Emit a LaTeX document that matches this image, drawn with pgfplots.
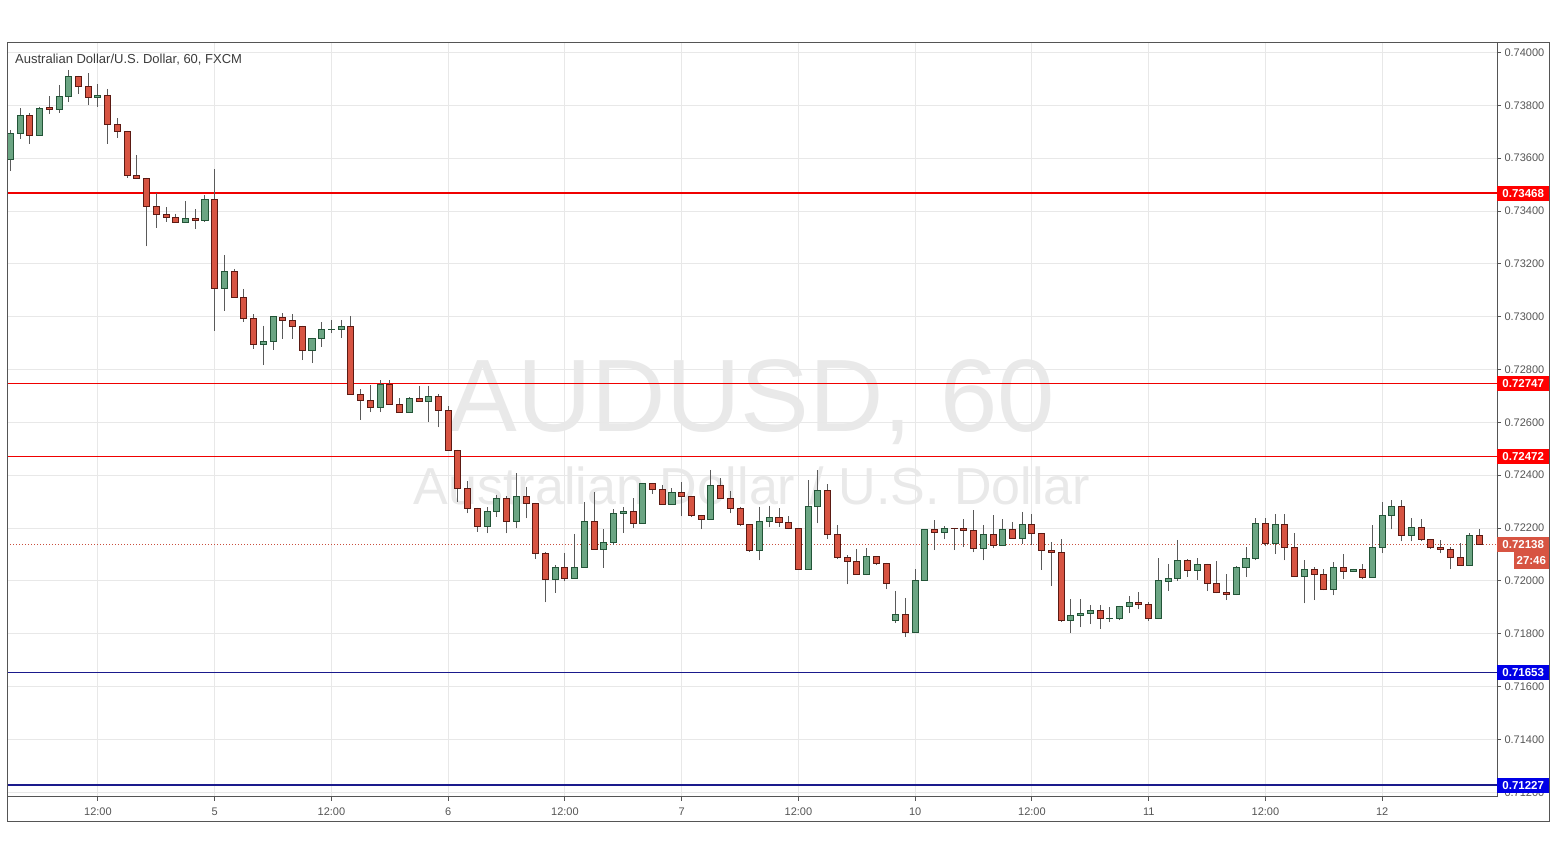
\documentclass[border=0pt]{standalone}
\usepackage{fontspec}
\setmainfont{Liberation Sans}
\usepackage{pgfplots}
\pgfplotsset{compat=1.18}
\usepackage{pgfplotstable}
\usepgfplotslibrary{statistics}

\definecolor{upfill}{HTML}{6BA583}
\definecolor{upline}{HTML}{225437}
\definecolor{dnfill}{HTML}{D75442}
\definecolor{dnline}{HTML}{5B1A13}
\definecolor{wick}{HTML}{5A5A5A}
\definecolor{gridc}{HTML}{E8E8E8}
\definecolor{axisc}{HTML}{555555}
\definecolor{tickc}{HTML}{555555}
\definecolor{wm}{HTML}{E9E9E9}
\definecolor{lvlred}{HTML}{F00000}
\definecolor{lvlblue}{HTML}{1A1A8C}
\definecolor{boxred}{HTML}{FF0000}
\definecolor{boxblue}{HTML}{0000E6}
\definecolor{lastc}{HTML}{C9503E}
\definecolor{lastbox}{HTML}{D75442}
\definecolor{titlec}{HTML}{3C3C3C}

\tikzset{pbox/.style={anchor=west, text=white, font=\bfseries\fontsize{11.5}{11.5}\selectfont, minimum width=52pt, minimum height=15pt, inner sep=0pt}}

% r = candle index (hourly), L = low, B = body bottom, T = body top, H = high, up = 1 if close > open
\pgfplotstableread{
r L B T H up
0 0.73551 0.73596 0.73694 0.73707 1
1 0.73673 0.73694 0.73762 0.73789 1
2 0.73654 0.73687 0.73762 0.73770 0
3 0.73685 0.73687 0.73789 0.73795 1
4 0.73767 0.73785 0.73790 0.73835 0
5 0.73771 0.73785 0.73834 0.73877 1
6 0.73812 0.73834 0.73910 0.73934 1
7 0.73843 0.73872 0.73910 0.73912 0
8 0.73801 0.73830 0.73872 0.73921 0
9 0.73795 0.73830 0.73838 0.73881 1
10 0.73654 0.73728 0.73838 0.73862 0
11 0.73678 0.73702 0.73728 0.73752 0
12 0.73526 0.73535 0.73702 0.73704 0
13 0.73522 0.73524 0.73535 0.73612 0
14 0.73266 0.73418 0.73524 0.73526 0
15 0.73337 0.73388 0.73418 0.73467 0
16 0.73360 0.73376 0.73388 0.73415 0
17 0.73355 0.73357 0.73376 0.73390 0
18 0.73355 0.73357 0.73372 0.73437 1
19 0.73331 0.73365 0.73372 0.73407 0
20 0.73360 0.73365 0.73444 0.73460 1
21 0.72947 0.73108 0.73444 0.73558 0
22 0.73023 0.73108 0.73172 0.73234 1
23 0.73071 0.73073 0.73172 0.73181 0
24 0.72981 0.72994 0.73073 0.73105 0
25 0.72879 0.72896 0.72994 0.73009 0
26 0.72817 0.72896 0.72907 0.72966 1
27 0.72874 0.72907 0.72999 0.73003 1
28 0.72916 0.72986 0.72998 0.73013 0
29 0.72916 0.72964 0.72986 0.73010 0
30 0.72836 0.72873 0.72964 0.72966 0
31 0.72824 0.72873 0.72918 0.72920 1
32 0.72886 0.72918 0.72952 0.72979 1
33 0.72937 0.72952 0.72953 0.72988 1
34 0.72921 0.72952 0.72964 0.72988 1
35 0.72704 0.72706 0.72964 0.73003 0
36 0.72609 0.72684 0.72706 0.72725 0
37 0.72638 0.72657 0.72684 0.72740 0
38 0.72638 0.72657 0.72744 0.72759 1
39 0.72666 0.72668 0.72744 0.72759 0
40 0.72636 0.72638 0.72668 0.72691 0
41 0.72636 0.72638 0.72691 0.72695 1
42 0.72678 0.72680 0.72691 0.72738 0
43 0.72603 0.72680 0.72699 0.72738 1
44 0.72581 0.72646 0.72699 0.72706 0
45 0.72493 0.72495 0.72646 0.72662 0
46 0.72298 0.72350 0.72495 0.72497 0
47 0.72256 0.72275 0.72350 0.72378 0
48 0.72186 0.72207 0.72275 0.72277 0
49 0.72180 0.72207 0.72263 0.72279 1
50 0.72241 0.72263 0.72313 0.72324 1
51 0.72180 0.72226 0.72313 0.72320 0
52 0.72199 0.72226 0.72320 0.72407 1
53 0.72237 0.72294 0.72320 0.72357 0
54 0.72084 0.72104 0.72294 0.72296 0
55 0.71919 0.72006 0.72104 0.72110 0
56 0.71955 0.72006 0.72051 0.72059 1
57 0.71998 0.72010 0.72051 0.72107 0
58 0.72008 0.72010 0.72051 0.72178 1
59 0.72049 0.72051 0.72226 0.72298 1
60 0.72118 0.72120 0.72226 0.72335 0
61 0.72049 0.72120 0.72146 0.72195 1
62 0.72135 0.72146 0.72256 0.72271 1
63 0.72181 0.72256 0.72263 0.72280 1
64 0.72199 0.72218 0.72263 0.72313 0
65 0.72216 0.72218 0.72369 0.72371 1
66 0.72328 0.72347 0.72369 0.72371 0
67 0.72288 0.72290 0.72347 0.72363 0
68 0.72288 0.72290 0.72335 0.72350 1
69 0.72244 0.72320 0.72335 0.72373 0
70 0.72241 0.72248 0.72320 0.72322 0
71 0.72195 0.72233 0.72248 0.72250 0
72 0.72231 0.72233 0.72362 0.72420 1
73 0.72311 0.72313 0.72362 0.72388 0
74 0.72256 0.72275 0.72313 0.72341 0
75 0.72207 0.72214 0.72275 0.72281 0
76 0.72110 0.72116 0.72214 0.72216 0
77 0.72078 0.72116 0.72226 0.72281 1
78 0.72203 0.72226 0.72241 0.72285 1
79 0.72205 0.72222 0.72241 0.72275 0
80 0.72195 0.72199 0.72222 0.72244 0
81 0.72042 0.72044 0.72199 0.72201 0
82 0.72042 0.72044 0.72282 0.72381 1
83 0.72218 0.72282 0.72343 0.72419 1
84 0.72157 0.72176 0.72343 0.72366 0
85 0.72082 0.72089 0.72176 0.72210 0
86 0.71987 0.72074 0.72089 0.72097 0
87 0.72023 0.72025 0.72074 0.72120 0
88 0.72021 0.72025 0.72093 0.72123 1
89 0.72059 0.72067 0.72093 0.72095 0
90 0.71968 0.71991 0.72067 0.72069 0
91 0.71840 0.71851 0.71874 0.71962 1
92 0.71787 0.71805 0.71874 0.71936 0
93 0.71803 0.71805 0.72002 0.72044 1
94 0.72000 0.72002 0.72195 0.72197 1
95 0.72116 0.72184 0.72195 0.72229 0
96 0.72157 0.72184 0.72199 0.72207 1
97 0.72116 0.72198 0.72199 0.72201 0
98 0.72127 0.72191 0.72199 0.72234 0
99 0.72108 0.72123 0.72191 0.72268 0
100 0.72078 0.72123 0.72176 0.72212 1
101 0.72123 0.72135 0.72176 0.72249 0
102 0.72133 0.72135 0.72195 0.72234 1
103 0.72159 0.72161 0.72195 0.72223 0
104 0.72139 0.72161 0.72214 0.72261 1
105 0.72135 0.72180 0.72214 0.72253 0
106 0.72042 0.72116 0.72180 0.72182 0
107 0.71980 0.72108 0.72116 0.72146 0
108 0.71846 0.71849 0.72108 0.72157 0
109 0.71802 0.71849 0.71870 0.71930 1
110 0.71824 0.71870 0.71877 0.71930 1
111 0.71836 0.71877 0.71889 0.71908 1
112 0.71817 0.71858 0.71889 0.71908 0
113 0.71843 0.71858 0.71859 0.71900 1
114 0.71851 0.71858 0.71904 0.71906 1
115 0.71877 0.71904 0.71919 0.71942 1
116 0.71892 0.71911 0.71919 0.71957 0
117 0.71850 0.71858 0.71911 0.71920 0
118 0.71855 0.71858 0.72000 0.72085 1
119 0.71961 0.71999 0.72010 0.72064 1
120 0.71999 0.72010 0.72078 0.72155 1
121 0.72014 0.72040 0.72078 0.72082 0
122 0.72002 0.72040 0.72063 0.72085 1
123 0.71961 0.71991 0.72063 0.72065 0
124 0.71953 0.71957 0.71991 0.72074 0
125 0.71927 0.71949 0.71957 0.72025 0
126 0.71945 0.71949 0.72051 0.72055 1
127 0.72014 0.72051 0.72085 0.72127 1
128 0.72078 0.72085 0.72218 0.72237 1
129 0.72131 0.72142 0.72218 0.72237 0
130 0.72101 0.72142 0.72214 0.72252 1
131 0.72078 0.72127 0.72214 0.72252 0
132 0.72014 0.72017 0.72127 0.72180 0
133 0.71915 0.72017 0.72044 0.72078 1
134 0.71927 0.72025 0.72044 0.72051 0
135 0.71964 0.71968 0.72025 0.72044 0
136 0.71945 0.71968 0.72051 0.72070 1
137 0.72006 0.72036 0.72051 0.72101 0
138 0.72034 0.72036 0.72044 0.72046 1
139 0.72006 0.72014 0.72044 0.72063 0
140 0.72012 0.72014 0.72127 0.72210 1
141 0.72104 0.72127 0.72248 0.72298 1
142 0.72195 0.72248 0.72282 0.72305 1
143 0.72150 0.72173 0.72282 0.72305 0
144 0.72150 0.72173 0.72203 0.72237 1
145 0.72150 0.72157 0.72203 0.72233 0
146 0.72120 0.72127 0.72157 0.72159 0
147 0.72104 0.72120 0.72127 0.72154 0
148 0.72044 0.72089 0.72120 0.72127 0
149 0.72057 0.72059 0.72089 0.72142 0
150 0.72057 0.72059 0.72173 0.72180 1
151 0.72136 0.72138 0.72173 0.72195 0
}\candles

\begin{document}
\begin{tikzpicture}
\useasboundingbox (0pt,0pt) rectangle (1556pt,859pt);
\fill[white] (0pt,0pt) rectangle (1556pt,859pt);
% watermark
\node[anchor=base, text=wm, font=\fontsize{103}{103}\selectfont, inner sep=0pt] at (752pt,427pt) {AUDUSD, 60};
\node[anchor=base, text=wm, font=\fontsize{52}{52}\selectfont, inner sep=0pt] at (752pt,354pt) {Australian Dollar / U.S. Dollar};

\begin{axis}[
  at={(7pt,62pt)}, anchor=south west,
  scale only axis, width=1490pt, height=754pt,
  xmin=-0.35, xmax=152.8,
  ymin=0.71182, ymax=0.74036,
  clip mode=individual,
  axis line style={axisc, line width=1pt},
  grid=major, grid style={gridc, line width=1pt},
  tick style={axisc, line width=1pt},
  major tick length=4pt, tick align=outside,
  xtick pos=bottom, ytick pos=right, yticklabel pos=right,
  xtick={9,21,33,45,57,69,81,93,105,117,129,141},
  xticklabels={12:00,5,12:00,6,12:00,7,12:00,10,12:00,11,12:00,12},
  ytick={0.712,0.714,0.716,0.718,0.720,0.722,0.724,0.726,0.728,0.730,0.732,0.734,0.736,0.738,0.740},
  scaled y ticks=false,
  yticklabel style={/pgf/number format/fixed, /pgf/number format/fixed zerofill,
    /pgf/number format/precision=5, /pgf/number format/assume math mode=true,
    font=\fontsize{11}{11}\selectfont, text=tickc},
  xticklabel style={font=\fontsize{11}{11}\selectfont, text=tickc, yshift=-3pt},
  boxplot/draw direction=y,
  boxplot/box extend=0.62,
  boxplot/whisker extend=0,
  boxplot/every whisker/.style={draw=wick, line width=1pt},
  upc/.style={draw=upline, fill=upfill, line width=1pt, boxplot/every median/.style={draw=upline}},
  dnc/.style={draw=dnline, fill=dnfill, line width=1pt, boxplot/every median/.style={draw=dnline}},
]
% support / resistance levels
\addplot[lvlred, line width=1.3pt, forget plot] coordinates {(-0.35,0.73468) (152.8,0.73468)};
\addplot[lvlred, line width=1.3pt, forget plot] coordinates {(-0.35,0.72747) (152.8,0.72747)};
\addplot[lvlred, line width=1.3pt, forget plot] coordinates {(-0.35,0.72472) (152.8,0.72472)};
\addplot[lvlblue, line width=1.3pt, forget plot] coordinates {(-0.35,0.71653) (152.8,0.71653)};
\addplot[lvlblue, line width=1.3pt, forget plot] coordinates {(-0.35,0.71227) (152.8,0.71227)};
% last price
\addplot[lastc, line width=1pt, dash pattern=on 1pt off 2pt, forget plot] coordinates {(-0.35,0.72138) (152.8,0.72138)};

% candles, one per table row
\pgfplotsinvokeforeach{0,...,151}{
  \pgfplotstablegetelem{#1}{L}\of\candles \let\cL\pgfplotsretval
  \pgfplotstablegetelem{#1}{B}\of\candles \let\cB\pgfplotsretval
  \pgfplotstablegetelem{#1}{T}\of\candles \let\cT\pgfplotsretval
  \pgfplotstablegetelem{#1}{H}\of\candles \let\cH\pgfplotsretval
  \pgfplotstablegetelem{#1}{up}\of\candles
  \ifnum\pgfplotsretval=1 \def\cstyle{upc}\else\def\cstyle{dnc}\fi
  \edef\candleplot{\noexpand\addplot[\cstyle, boxplot prepared={draw position=#1,
      lower whisker=\cL, lower quartile=\cB, median=\cB, upper quartile=\cT, upper whisker=\cH}] coordinates {};}
  \candleplot
}

% price labels on the scale
\node[pbox, fill=boxred] at (axis cs:152.8,0.73468) {0.73468};
\node[pbox, fill=boxred] at (axis cs:152.8,0.72747) {0.72747};
\node[pbox, fill=boxred] at (axis cs:152.8,0.72472) {0.72472};
\node[pbox, fill=lastbox] at (axis cs:152.8,0.72138) {0.72138};
\node[pbox, fill=lastbox, anchor=north east, minimum width=35pt, minimum height=17pt] at ([xshift=52pt,yshift=-7.5pt]axis cs:152.8,0.72138) {27:46};
\node[pbox, fill=boxblue] at (axis cs:152.8,0.71653) {0.71653};
\node[pbox, fill=boxblue] at (axis cs:152.8,0.71227) {0.71227};
\end{axis}

% outer frame (price scale and time scale)
\draw[axisc, line width=1pt] (7pt,37pt) rectangle (1549pt,816pt);
% title
\node[anchor=west, text=titlec, font=\fontsize{13}{13}\selectfont, inner sep=0pt] at (15pt,799pt) {Australian Dollar/U.S. Dollar, 60, FXCM};
\end{tikzpicture}
\end{document}
